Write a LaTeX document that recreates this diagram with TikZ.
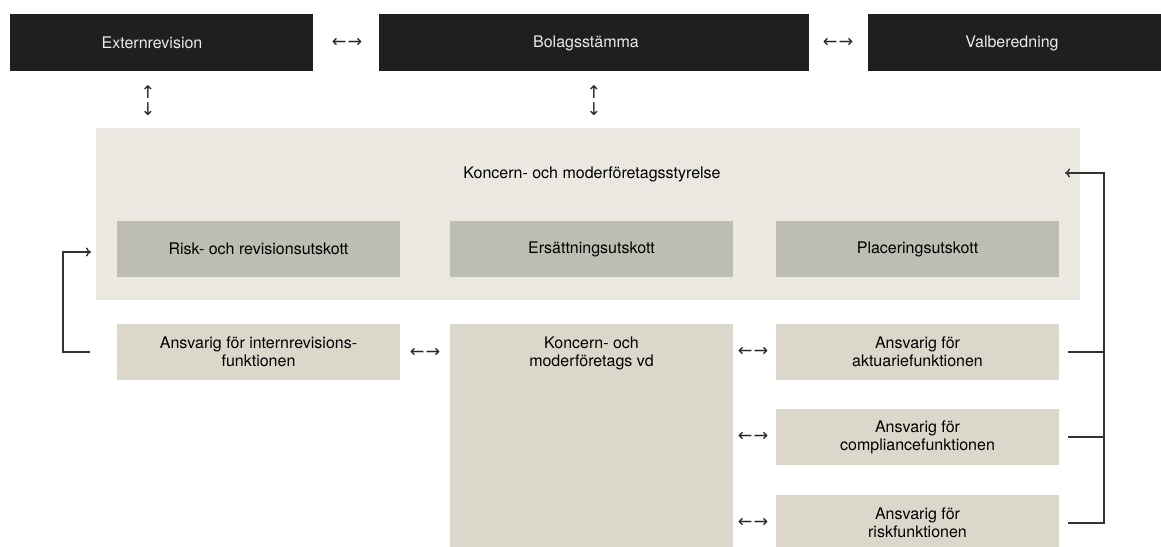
\documentclass[tikz,border=0pt]{standalone}
\usepackage{fontspec}
\setmainfont{TeX Gyre Heros}
\newfontfamily\arrowfont{DejaVu Sans}
\usetikzlibrary{arrows.meta}
\definecolor{darkbox}{HTML}{1F1F1F}
\definecolor{outerbox}{HTML}{EBE8E2}
\definecolor{committee}{HTML}{BDBDB2}
\definecolor{rolebox}{HTML}{DBD8CB}
\definecolor{linecol}{HTML}{333333}
\tikzset{
  darkstyle/.style={fill=darkbox, draw=none, text=white!92!black, inner sep=0pt, font=\fontsize{16}{18}\selectfont},
  committeestyle/.style={fill=committee, draw=none, inner sep=0pt, minimum width=283pt, minimum height=56pt, font=\fontsize{16}{18}\selectfont},
  rolestyle/.style={fill=rolebox, draw=none, inner sep=0pt, minimum width=283pt, minimum height=56pt, align=center, font=\fontsize{16}{18}\selectfont},
  arrowtext/.style={inner sep=0pt, text=black!85, font=\arrowfont\fontsize{17.5}{17}\selectfont},
  bracket/.style={draw=linecol, line width=1.4pt, line cap=butt},
  bracketarrow/.style={bracket, -{To[length=5pt,width=9pt]}},
}
\begin{document}
\begin{tikzpicture}[x=1pt,y=-1pt]
\clip (0,0) rectangle (1161,546);
\fill[white] (0,0) rectangle (1161,546);
% top row
\node[darkstyle, minimum width=303pt, minimum height=57pt] (ext) at (161.5,42.5) {};
\node[text=white!92!black, font=\fontsize{16}{18}\selectfont, inner sep=0pt] (extlbl) at (152,43) {Externrevision};
\node[darkstyle, minimum width=430pt, minimum height=57pt] (bolag) at (594,42.5) {};
\node[text=white!92!black, font=\fontsize{16}{18}\selectfont, inner sep=0pt] (bolaglbl) at (586,43) {Bolagsstämma};
\node[darkstyle, minimum width=293pt, minimum height=57pt] (valb) at (1014.5,42.5) {};
\node[text=white!92!black, font=\fontsize{16}{18}\selectfont, inner sep=0pt] (valblbl) at (1012,43) {Valberedning};
\node[arrowtext] (a1) at (347,43) {←\kern1pt→};
\node[arrowtext] (a2) at (838,43) {←\kern1pt→};
\node[arrowtext, align=center] (v1) at (148,101) {\fontsize{17.5}{14}\selectfont ↑\\↓};
\node[arrowtext, align=center] (v2) at (594,101) {\fontsize{17.5}{14}\selectfont ↑\\↓};
% board
\node[fill=outerbox, draw=none, minimum width=984pt, minimum height=172pt, inner sep=0pt] (board) at (588,214) {};
\node[font=\fontsize{16}{18}\selectfont, inner sep=0pt] (boardlbl) at (592,174) {Koncern- och moderföretagsstyrelse};
\node[committeestyle] (risk) at (258.5,249) {Risk- och revisionsutskott};
\node[committeestyle] (ers) at (591.5,249) {Ersättningsutskott};
\node[committeestyle] (plac) at (917.5,249) {Placeringsutskott};
% roles
\node[rolestyle] (intrev) at (258.5,352) {Ansvarig för internrevisions-\\funktionen};
\node[fill=rolebox, draw=none, inner sep=0pt, minimum width=283pt, minimum height=240pt] (vd) at (591.5,444) {};
\node[font=\fontsize{16}{18}\selectfont, align=center, inner sep=0pt, anchor=north] (vdlbl) at (591.5,337) {Koncern- och\\moderföretags vd};
\node[rolestyle] (akt) at (917.5,352) {Ansvarig för\\aktuariefunktionen};
\node[rolestyle] (comp) at (917.5,437) {Ansvarig för\\compliancefunktionen};
\node[rolestyle] (riskf) at (917.5,523) {Ansvarig för\\riskfunktionen};
\node[arrowtext] (a3) at (425,353) {←\kern1pt→};
\node[arrowtext] (a4) at (753,352) {←\kern1pt→};
\node[arrowtext] (a5) at (753,437) {←\kern1pt→};
\node[arrowtext] (a6) at (753,523) {←\kern1pt→};
% left bracket
\coordinate (lstart) at (90,352);
\coordinate (lend) at (91,252);
\draw[bracketarrow] (lstart) -- (63,352) -- (63,252) -- (lend);
% right bracket
\coordinate (rtip) at (1065,173);
\coordinate (rline) at (1104,173);
\draw[bracketarrow] (1104,523) -- (rline) -- (rtip);
\draw[bracket] (akt.east) ++(9,0) -- (1104,352);
\draw[bracket] (comp.east) ++(9,0) -- (1104,437);
\draw[bracket] (riskf.east) ++(9,0) -- (1104.7,523);
\end{tikzpicture}
\end{document}
